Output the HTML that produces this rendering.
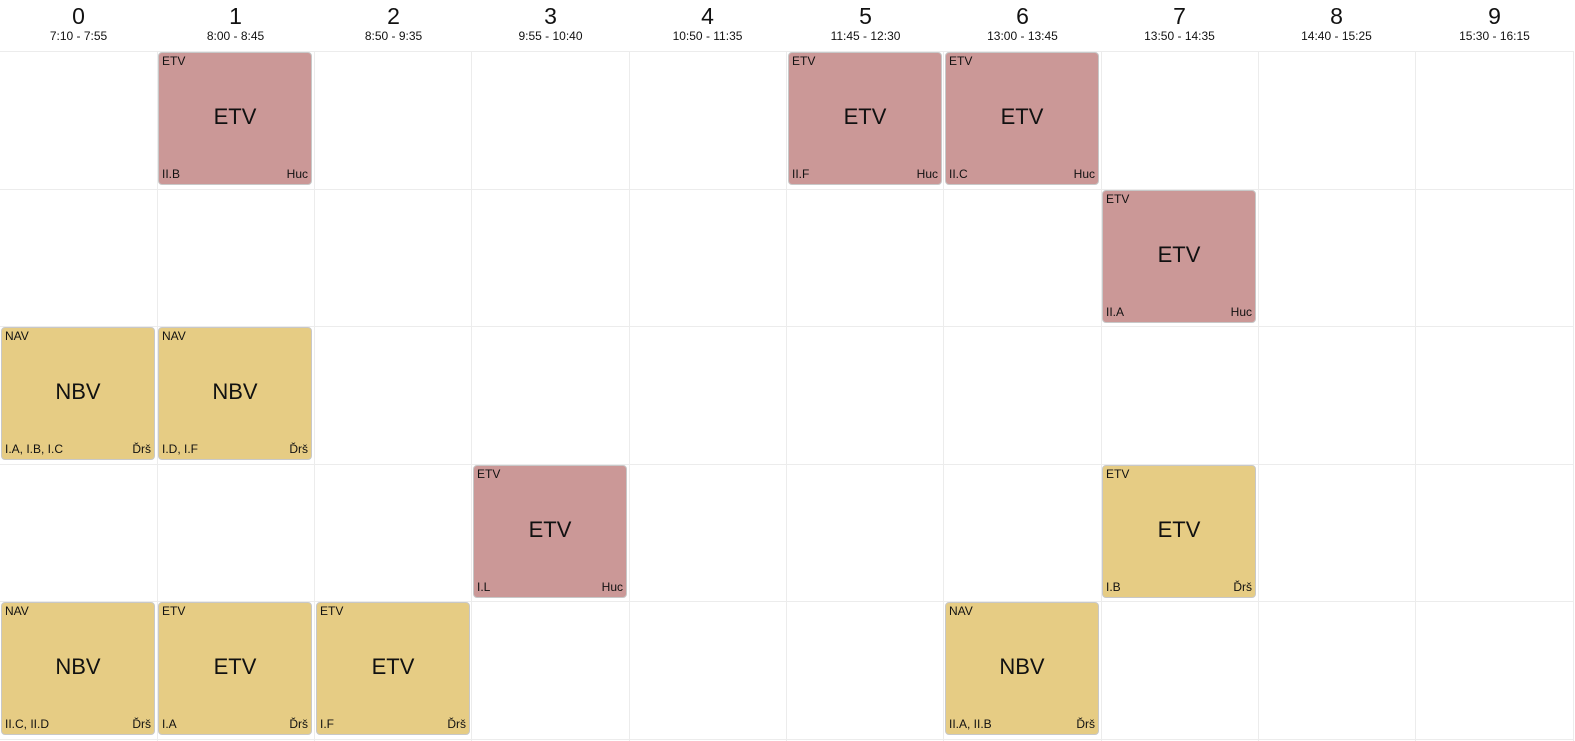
<!DOCTYPE html>
<html><head><meta charset="utf-8">
<style>
html,body{margin:0;padding:0;overflow:hidden}
body{width:1575px;height:741px;background:#fff;font-family:"Liberation Sans",Arial,sans-serif;position:relative;color:#111}
.hd{position:absolute;top:0;width:157px;text-align:center}
.hd .n{font-size:23px;line-height:26px;margin-top:3px}
.hd .t{font-size:12px;line-height:14px}
.vl{position:absolute;top:51px;width:1px;height:690px;background:#ececec}
.hl{position:absolute;left:0;width:1573px;height:1px;background:#ececec}
.card{position:absolute;border-radius:4px;border:1px solid #c8c8c8;box-sizing:border-box}
.card .tl{position:absolute;left:3px;top:1px;font-size:12px}
.card .c{position:absolute;left:0;right:0;top:51px;text-align:center;font-size:22px}
.card .bl{position:absolute;left:3px;bottom:3px;font-size:12px}
.card .br{position:absolute;right:3px;bottom:3px;font-size:12px}
</style></head><body>
<script>
const periods=["0","1","2","3","4","5","6","7","8","9"];
const times=["7:10 - 7:55","8:00 - 8:45","8:50 - 9:35","9:55 - 10:40","10:50 - 11:35","11:45 - 12:30","13:00 - 13:45","13:50 - 14:35","14:40 - 15:25","15:30 - 16:15"];
const lessonCol=[1,5,6,7,0,1,3,7,0,1,2,6];
const lessonRow=[0,0,0,1,2,2,3,3,4,4,4,4];
const lessonTop=["ETV","ETV","ETV","ETV","NAV","NAV","ETV","ETV","NAV","ETV","ETV","NAV"];
const lessonName=["ETV","ETV","ETV","ETV","NBV","NBV","ETV","ETV","NBV","ETV","ETV","NBV"];
const lessonClass=["II.B","II.F","II.C","II.A","I.A, I.B, I.C","I.D, I.F","I.L","I.B","II.C, II.D","I.A","I.F","II.A, II.B"];
const lessonTeacher=["Huc","Huc","Huc","Huc","Ďrš","Ďrš","Huc","Ďrš","Ďrš","Ďrš","Ďrš","Ďrš"];
const colW=157.3,top0=51,rowH=137.6;
const colors={"Huc":"#cb9897","Ďrš":"#e6cc84"};
for(let i=0;i<periods.length;i++){
  const h=document.createElement('div');h.className='hd';h.style.left=Math.round(i*colW)+'px';
  
  
  h.innerHTML='<div class="n">'+periods[i]+'</div><div class="t">'+times[i]+'</div>';
  document.body.appendChild(h);
  const v=document.createElement('div');v.className='vl';v.style.left=Math.round((i+1)*colW-0.5)+'px';
  
  
  document.body.appendChild(v);
}
for(let r=0;r<=5;r++){
  const l=document.createElement('div');l.className='hl';l.style.top=Math.round(top0+r*rowH)+'px';
  
  
  document.body.appendChild(l);
}
for(let k=0;k<lessonCol.length;k++){
  const c=document.createElement('div');c.className='card';
  c.style.left=Math.round(lessonCol[k]*colW+1)+'px';c.style.top=Math.round(top0+lessonRow[k]*rowH+1)+'px';
  c.style.width='154px';c.style.height='133px';
  c.style.background=colors[lessonTeacher[k]];
  
  
  c.innerHTML='<span class="tl">'+lessonTop[k]+'</span><span class="c">'+lessonName[k]+'</span><span class="bl">'+lessonClass[k]+'</span><span class="br">'+lessonTeacher[k]+'</span>';
  document.body.appendChild(c);
}
</script>
</body></html>
